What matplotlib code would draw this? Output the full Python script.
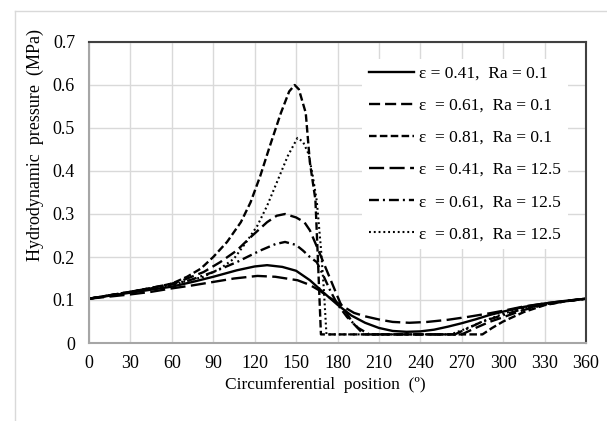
import matplotlib
matplotlib.use("Agg")
import matplotlib.pyplot as plt
from matplotlib.lines import Line2D

plt.rcParams["font.family"] = ["Liberation Serif", "DejaVu Serif"]

# circumferential position (deg) and pressure (MPa)
x_041_01 = [0, 15, 30, 45, 60, 75, 90, 107, 120, 129, 140, 150, 160, 170, 180, 190,
            200, 210, 220, 230, 240, 250, 260, 270, 280, 290, 300, 315, 330, 345, 360]
p_041_01 = [0.103, 0.110, 0.117, 0.124, 0.131, 0.142, 0.154, 0.169, 0.178, 0.181,
            0.177, 0.168, 0.146, 0.117, 0.089, 0.064, 0.047, 0.035, 0.028, 0.026,
            0.027, 0.031, 0.038, 0.046, 0.055, 0.065, 0.073, 0.084, 0.092, 0.098, 0.103]

x_061_01 = [0, 15, 30, 45, 60, 68, 83, 95, 107, 117, 129, 136, 142, 150, 156, 160,
            166, 175, 182, 191, 199, 270, 280, 290, 300, 315, 330, 345, 360]
p_061_01 = [0.103, 0.111, 0.119, 0.128, 0.138, 0.146, 0.165, 0.188, 0.215, 0.246,
            0.281, 0.296, 0.300, 0.292, 0.281, 0.262, 0.217, 0.147, 0.093, 0.047,
            0.020, 0.020, 0.035, 0.049, 0.060, 0.077, 0.089, 0.097, 0.103]

x_081_01 = [0, 15, 30, 45, 60, 71, 81, 90, 100, 110, 117, 124, 131, 139, 145, 149,
            152, 157, 160, 164, 166, 168, 285, 292, 300, 315, 330, 345, 360]
p_081_01 = [0.103, 0.111, 0.119, 0.128, 0.138, 0.154, 0.173, 0.200, 0.235, 0.281,
            0.327, 0.388, 0.458, 0.535, 0.585, 0.600, 0.590, 0.535, 0.420, 0.333,
            0.180, 0.020, 0.020, 0.035, 0.050, 0.072, 0.088, 0.097, 0.103]

x_041_125 = [0, 15, 30, 45, 60, 75, 90, 105, 122, 135, 151, 160, 167, 175, 184, 192,
             200, 211, 220, 232, 245, 260, 275, 290, 300, 315, 330, 345, 360]
p_041_125 = [0.103, 0.108, 0.113, 0.119, 0.127, 0.134, 0.142, 0.150, 0.156, 0.154,
             0.146, 0.135, 0.122, 0.104, 0.085, 0.070, 0.062, 0.054, 0.049, 0.047,
             0.049, 0.054, 0.061, 0.069, 0.075, 0.085, 0.092, 0.098, 0.103]

x_061_125 = [0, 15, 30, 45, 60, 73, 90, 107, 124, 135, 142, 150, 155, 160, 165, 170,
             175, 180, 187, 195, 203, 265, 275, 285, 300, 315, 330, 345, 360]
p_061_125 = [0.103, 0.111, 0.119, 0.127, 0.136, 0.146, 0.165, 0.188, 0.215, 0.230,
             0.235, 0.228, 0.215, 0.200, 0.188, 0.155, 0.120, 0.090, 0.060, 0.035,
             0.020, 0.020, 0.035, 0.050, 0.065, 0.080, 0.090, 0.097, 0.103]

x_081_125 = [0, 15, 30, 45, 60, 83, 95, 105, 114, 122, 129, 136, 144, 151, 155, 159,
             162, 165, 168, 170, 172, 262, 272, 285, 300, 315, 330, 345, 360]
p_081_125 = [0.103, 0.111, 0.118, 0.126, 0.135, 0.154, 0.173, 0.196, 0.235, 0.273,
             0.319, 0.373, 0.435, 0.477, 0.468, 0.440, 0.390, 0.330, 0.220, 0.130,
             0.020, 0.020, 0.032, 0.050, 0.068, 0.082, 0.091, 0.097, 0.103]

labels = [
    "ε = 0.41,  Ra = 0.1",
    "ε  = 0.61,  Ra = 0.1",
    "ε  = 0.81,  Ra = 0.1",
    "ε  = 0.41,  Ra = 12.5",
    "ε  = 0.61,  Ra = 12.5",
    "ε  = 0.81,  Ra = 12.5",
]
x_ticks = list(range(0, 361, 30))
y_ticks = [0, 0.1, 0.2, 0.3, 0.4, 0.5, 0.6, 0.7]
y_tick_labels = ["0", "0.1", "0.2", "0.3", "0.4", "0.5", "0.6", "0.7"]

series = [
    (x_041_01, p_041_01, "-", 1.7),
    (x_061_01, p_061_01, (0, (4.7, 2.1)), 1.7),
    (x_081_01, p_081_01, (0, (3.2, 1.4)), 1.7),
    (x_041_125, p_041_125, (0, (6.4, 2.3)), 1.7),
    (x_061_125, p_061_125, (0, (4.2, 1.7, 0.85, 1.7)), 1.7),
    (x_081_125, p_081_125, (0, (0.9, 1.4)), 1.5),
]

fig = plt.figure(figsize=(6.07, 4.21), dpi=100)
ax = fig.add_axes([89 / 607, 78 / 421, 497 / 607, 301 / 421])

for (xs, ys, ls, lw), lab in zip(series, labels):
    ax.plot(xs, ys, color="black", linestyle=ls, linewidth=lw, label=lab)

ax.set_xlim(0, 360)
ax.set_ylim(0, 0.7)
ax.set_xticks(x_ticks)
ax.set_yticks(y_ticks)
ax.set_yticklabels(y_tick_labels)
ax.tick_params(length=0, labelsize=13, pad=10)
ax.tick_params(axis="x", pad=9)
ax.grid(True, color="#d9d9d9", linewidth=1)
ax.set_axisbelow(True)
for side in ["left", "bottom"]:
    ax.spines[side].set_color("#a6a6a6")
    ax.spines[side].set_linewidth(1.5)
for side in ["top", "right"]:
    ax.spines[side].set_color("#404040")
    ax.spines[side].set_linewidth(1.5)

leg = ax.legend(
    loc="upper left",
    bbox_to_anchor=(0.549, 0.945),
    borderaxespad=0,
    frameon=True,
    fancybox=False,
    framealpha=1,
    facecolor="white",
    edgecolor="none",
    fontsize=12.5,
    handlelength=2.6,
    handletextpad=0.3,
    labelspacing=0.92,
    borderpad=0.4,
)

fig.text(35 / 607, (421 - 145) / 421, "Hydrodynamic  pressure  (MPa)", rotation=90,
         ha="center", va="center", fontsize=13)
fig.text(325 / 607, (421 - 385) / 421, "Circumferential  position  (º)",
         ha="center", va="center", fontsize=12.5)

# light frame of the chart area (left and top edges visible in the crop)
fig.add_artist(Line2D([15 / 607, 15 / 607], [0, 410.5 / 421], color="#d9d9d9", linewidth=1))
fig.add_artist(Line2D([15 / 607, 1], [410.5 / 421, 410.5 / 421], color="#d9d9d9", linewidth=1))

fig.savefig("out.png", dpi=100)
